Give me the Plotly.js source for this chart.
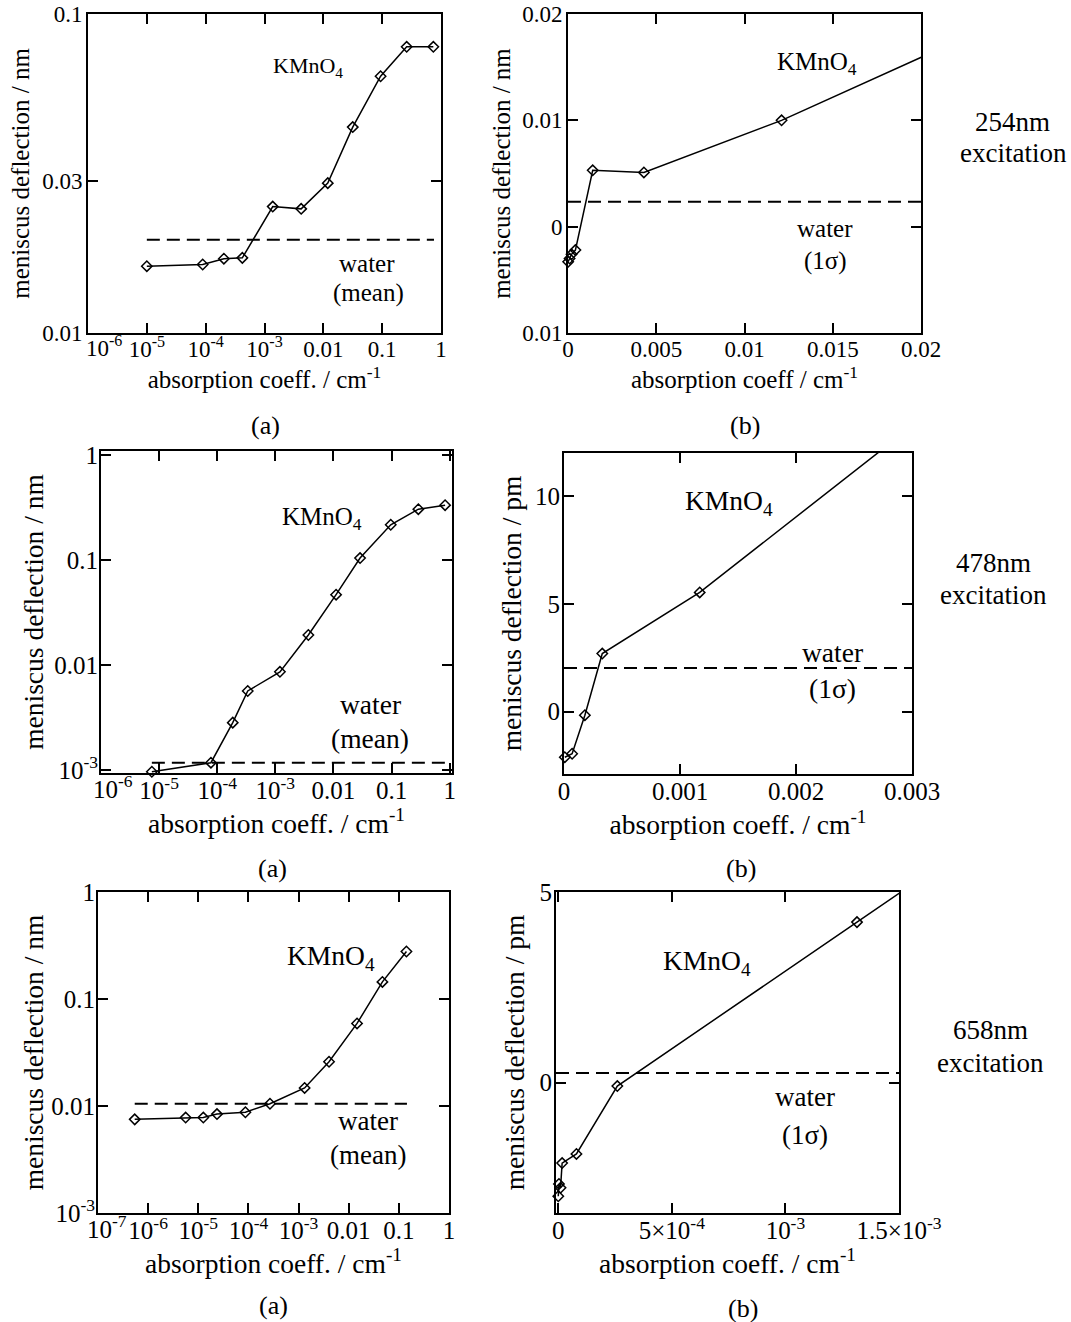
<!DOCTYPE html>
<html>
<head>
<meta charset="utf-8">
<script src="https://cdn.plot.ly/plotly-3.0.1.min.js"></script>
<style>html,body{margin:0;padding:0;background:#fff;}#chart{width:1071px;height:1322px;}</style>
</head>
<body>
<div id="chart"></div>
<script>
// ---------- data ----------
// 254 nm, (a) log-log
const aX = [1e-5, 8.9e-5, 2.04e-4, 4.2e-4, 1.38e-3, 4.2e-3, 0.0119, 0.0316, 0.094, 0.261, 0.741];
const aY = [0.0162, 0.0164, 0.0171, 0.0172, 0.0249, 0.0245, 0.0295, 0.0442, 0.0638, 0.0789, 0.0789];
const aWater = 0.0196;
const aWaterX = [1e-5, 0.76];
// 254 nm, (b) linear
const bX = [0.00001, 0.00009, 0.0002, 0.00042, 0.0014, 0.0043, 0.0121, 0.0316];
const bY = [-0.0033, -0.003, -0.0026, -0.0022, 0.0053, 0.0051, 0.0100, 0.0246];
const bWater = 0.00235;
const bWaterX = [0, 0.02];
// 478 nm, (a) log-log
const cX = [7.5e-6, 7.8e-5, 1.85e-4, 3.35e-4, 1.2e-3, 3.7e-3, 0.0111, 0.0287, 0.0968, 0.289, 0.834];
const cY = [9.6e-4, 1.17e-3, 2.82e-3, 5.65e-3, 8.6e-3, 0.0193, 0.0468, 0.1045, 0.217, 0.306, 0.334];
const cWater = 1.17e-3;
const cWaterX = [7.5e-6, 1.0];
// 478 nm, (b) linear (pm)
const dX = [0.000007, 0.00007, 0.00018, 0.00033, 0.00117, 0.0037];
const dY = [-2.12, -1.96, -0.17, 2.69, 5.53, 16.2];
const dWater = 2.02;
const dWaterX = [0, 0.003];
// 658 nm, (a) log-log
const eX = [5.4e-7, 5.6e-6, 1.26e-5, 2.36e-5, 8.7e-5, 2.69e-4, 1.32e-3, 4.05e-3, 0.01466, 0.047, 0.1416];
const eY = [7.5e-3, 7.8e-3, 7.8e-3, 8.4e-3, 8.75e-3, 0.0105, 0.01476, 0.0259, 0.0591, 0.1445, 0.278];
const eWater = 0.0105;
const eWaterX = [5.4e-7, 0.145];
// 658 nm, (b) linear (pm)
const fX = [0.0, 0.000003, 0.00001, 0.000017, 0.00008, 0.00026, 0.001315, 0.00405];
const fY = [-2.98, -2.66, -2.76, -2.11, -1.87, -0.09, 4.21, 15.35];
const fWater = 0.25;
const fWaterX = [-0.00001, 0.0015];

// tick labels (the first log label sits off the frame in the reference; it is drawn as a note)
const logXTicks6 = [1e-6, 1e-5, 1e-4, 1e-3, 0.01, 0.1, 1];
const logXText6 = ['', '10<sup>-5</sup>', '10<sup>-4</sup>', '10<sup>-3</sup>', '0.01', '0.1', '1'];
const logXTicks7 = [1e-7, 1e-6, 1e-5, 1e-4, 1e-3, 0.01, 0.1, 1];
const logXText7 = ['', '10<sup>-6</sup>', '10<sup>-5</sup>', '10<sup>-4</sup>', '10<sup>-3</sup>', '0.01', '0.1', '1'];
const firstLog6 = '10<sup>-6</sup>';
const firstLog7 = '10<sup>-7</sup>';
const aYTicks = [0.01, 0.03, 0.1];
const aYText = ['0.01', '0.03', '0.1'];
const bXTicks = [0, 0.005, 0.01, 0.015, 0.02];
const bXText = ['0', '0.005', '0.01', '0.015', '0.02'];
const bYTicks = [-0.01, 0, 0.01, 0.02];
const bYText = ['0.01', '0', '0.01', '0.02'];
const ceYTicks = [1e-3, 0.01, 0.1, 1];
const ceYText = ['10<sup>-3</sup>', '0.01', '0.1', '1'];
const dXTicks = [0, 0.001, 0.002, 0.003];
const dXText = ['0', '0.001', '0.002', '0.003'];
const dYTicks = [0, 5, 10];
const dYText = ['0', '5', '10'];
const fXTicks = [0, 5e-4, 1e-3, 1.5e-3];
const fXText = ['0', '5\u00d710<sup>-4</sup>', '10<sup>-3</sup>', '1.5\u00d710<sup>-3</sup>'];
const fYTicks = [0, 5];
const fYText = ['0', '5'];

// ---------- layout helpers ----------
const W = 1071, H = 1322;
const FONT = 'Liberation Serif, Times New Roman, serif';
const px = v => v / W;
const py = v => 1 - v / H;
const dxm = (l, r) => [l / W, r / W];
const dym = (t, b) => [1 - b / H, 1 - t / H];

function ax(tickSize, labelShift, titleText, titleSize, standoff, extra) {
  return Object.assign({
    showline: true, linecolor: 'black', linewidth: 2, mirror: 'ticks',
    ticks: 'inside', ticklen: 10, tickwidth: 2, tickcolor: 'black',
    showgrid: false, zeroline: false, tickmode: 'array', automargin: false,
    ticklabelstandoff: labelShift,
    tickfont: {family: FONT, size: tickSize, color: 'black'},
    title: {text: titleText, font: {family: FONT, size: titleSize, color: 'black'}, standoff: standoff}
  }, extra);
}

const traces = [];
function addPanel(n, X, Y, water, waterX, xr, yr, xlog, ylog) {
  const xa = n === 1 ? 'x' : 'x' + n;
  const ya = n === 1 ? 'y' : 'y' + n;
  const xmax = xlog ? Math.pow(10, xr[1]) : xr[1];
  const ymin = ylog ? Math.pow(10, yr[0]) : yr[0];
  const ymax = ylog ? Math.pow(10, yr[1]) : yr[1];
  traces.push({x: waterX, y: [water, water], xaxis: xa, yaxis: ya, mode: 'lines',
    line: {color: 'black', width: 2, dash: '13px,7px'}, hoverinfo: 'skip', showlegend: false});
  traces.push({x: X, y: Y, xaxis: xa, yaxis: ya, mode: 'lines',
    line: {color: 'black', width: 1.5}, showlegend: false});
  const mx = [], my = [];
  for (let i = 0; i < X.length; i++) {
    if (X[i] <= xmax * 1.001 && Y[i] <= ymax && Y[i] >= ymin - Math.abs(ymin) * 0.1) { mx.push(X[i]); my.push(Y[i]); }
  }
  traces.push({x: mx, y: my, xaxis: xa, yaxis: ya, mode: 'markers', cliponaxis: false,
    marker: {symbol: 'diamond-open', size: 8, color: 'black', line: {color: 'black', width: 1.5}}, showlegend: false});
}

addPanel(1, aX, aY, aWater, aWaterX, [-6, 0], [-2, -1], true, true);
addPanel(2, bX, bY, bWater, bWaterX, [0, 0.02], [-0.01, 0.02], false, false);
addPanel(3, cX, cY, cWater, cWaterX, [-6, 0.04], [-3.03, 0.04], true, true);
addPanel(4, dX, dY, dWater, dWaterX, [0, 0.003], [-2.9, 12], false, false);
addPanel(5, eX, eY, eWater, eWaterX, [-7, 0], [-3, 0], true, true);
addPanel(6, fX, fY, fWater, fWaterX, [-0.00001, 0.0015], [-3.42, 5], false, false);

const xTitle = 'absorption coeff. / cm<sup>-1</sup>';
const yNm = 'meniscus deflection / nm';
const yPm = 'meniscus deflection / pm';
const layout = {
  width: W, height: H, margin: {l: 0, r: 0, t: 0, b: 0},
  paper_bgcolor: 'white', plot_bgcolor: 'white', showlegend: false,
  font: {family: FONT, size: 22, color: 'black'},
  xaxis:  ax(23, -6, xTitle, 25, 8, {type: 'log', range: [-6, 0], domain: dxm(88, 441), anchor: 'y', tickvals: logXTicks6, ticktext: logXText6}),
  yaxis:  ax(23, -1, yNm, 25, 5, {type: 'log', range: [-2, -1], domain: dym(14, 333), anchor: 'x', tickvals: aYTicks, ticktext: aYText}),
  xaxis2: ax(23, -6, 'absorption coeff / cm<sup>-1</sup>', 25, 8, {range: [0, 0.02], domain: dxm(568, 921), anchor: 'y2', tickvals: bXTicks, ticktext: bXText}),
  yaxis2: ax(23, -1, yNm, 25, 4, {range: [-0.01, 0.02], domain: dym(14, 333), anchor: 'x2', tickvals: bYTicks, ticktext: bYText}),
  xaxis3: ax(25, -6, xTitle, 27.5, 6, {type: 'log', range: [-6, 0.04], domain: dxm(101, 452), anchor: 'y3', tickvals: logXTicks6, ticktext: logXText6}),
  yaxis3: ax(25, -4, yNm, 27.5, 3, {type: 'log', range: [-3.03, 0.04], domain: dym(451, 773), anchor: 'x3', tickvals: ceYTicks, ticktext: ceYText}),
  xaxis4: ax(25, -6, xTitle, 27.5, 11, {range: [0, 0.003], domain: dxm(564, 912), anchor: 'y4', tickvals: dXTicks, ticktext: dXText}),
  yaxis4: ax(25, -3, yPm, 27.5, 5, {range: [-2.9, 12], domain: dym(453, 774), anchor: 'x4', tickvals: dYTicks, ticktext: dYText}),
  xaxis5: ax(25, -6, xTitle, 27.5, 10, {type: 'log', range: [-7, 0], domain: dxm(98, 449), anchor: 'y5', tickvals: logXTicks7, ticktext: logXText7}),
  yaxis5: ax(25, -4, yNm, 27.5, 0, {type: 'log', range: [-3, 0], domain: dym(892, 1213), anchor: 'x5', tickvals: ceYTicks, ticktext: ceYText}),
  xaxis6: ax(25, -6, xTitle, 27.5, 6, {range: [-0.00001, 0.0015], domain: dxm(556, 899), anchor: 'y6', tickvals: fXTicks, ticktext: fXText}),
  yaxis6: ax(25, -3, yPm, 27.5, 7, {range: [-3.42, 5], domain: dym(892, 1213), anchor: 'x6', tickvals: fYTicks, ticktext: fYText}),
  annotations: []
};

function note(text, x, y, size) {
  layout.annotations.push({text: text, xref: 'paper', yref: 'paper', x: px(x), y: py(y),
    xanchor: 'center', yanchor: 'middle', showarrow: false, font: {family: FONT, size: size, color: 'black'}});
}
const KM = 'KMnO<sub>4</sub>';
note(firstLog6, 104, 346, 23);
note(firstLog6, 113, 787, 25);
note(firstLog7, 107, 1227, 25);
note(KM, 308, 67, 22); note('water', 367, 264, 25); note('(mean)', 368, 293, 25);
note(KM, 817, 63, 25); note('water', 825, 228, 25); note('(1\u03c3)', 825, 261, 25);
note(KM, 322, 518, 25); note('water', 370, 704, 27.5); note('(mean)', 370, 738, 27.5);
note(KM, 729, 503, 27.5); note('water', 832, 653, 27.5); note('(1\u03c3)', 832, 688, 27.5);
note(KM, 331, 957, 27.5); note('water', 368, 1121, 27); note('(mean)', 368, 1155, 27);
note(KM, 707, 962, 27.5); note('water', 805, 1097, 27); note('(1\u03c3)', 805, 1135, 27);
note('(a)', 265, 425, 26); note('(b)', 745, 425, 26);
note('(a)', 272, 868, 26); note('(b)', 741, 868, 26);
note('(a)', 273, 1305, 26); note('(b)', 743, 1308, 26);
note('254nm', 1012, 122, 27); note('excitation', 1013, 153, 27);
note('478nm', 993, 563, 27); note('excitation', 993, 595, 27);
note('658nm', 990, 1030, 27); note('excitation', 990, 1063, 27);

Plotly.newPlot('chart', traces, layout, {staticPlot: true, displayModeBar: false});
</script>
</body>
</html>
